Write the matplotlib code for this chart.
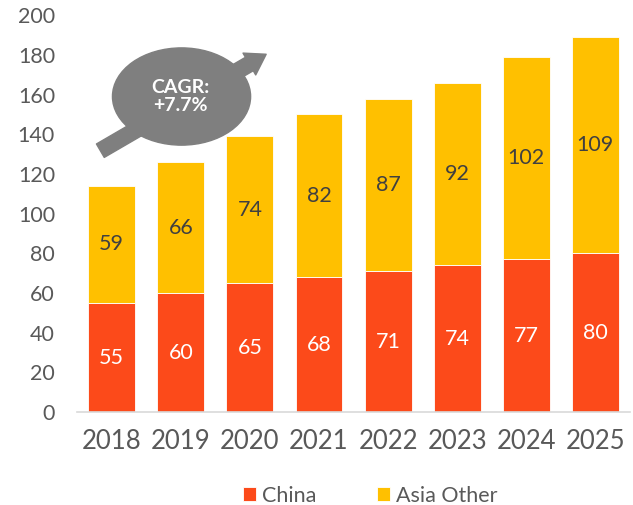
import matplotlib
matplotlib.use("Agg")
import matplotlib.pyplot as plt
from matplotlib.patches import Ellipse, FancyArrowPatch

years = ["2018", "2019", "2020", "2021", "2022", "2023", "2024", "2025"]
china = [55, 60, 65, 68, 71, 74, 77, 80]
asia_other = [59, 66, 74, 82, 87, 92, 102, 109]
yticks = [0, 20, 40, 60, 80, 100, 120, 140, 160, 180, 200]
cagr_text = "CAGR:\n+7.7%"

C_CHINA = "#FC4A1A"
C_ASIA = "#FFC000"
GRAY = "#595959"

plt.rcParams['font.family'] = ['Lato', 'DejaVu Sans']

fig = plt.figure(figsize=(6.33, 5.05), dpi=100)
ax = fig.add_axes([0.122, 0.184, 0.873, 0.786])

x = list(range(len(years)))
w = 0.68
b1 = ax.bar(x, china, width=w, color=C_CHINA, edgecolor="white", linewidth=0.6, label="China", zorder=2)
b2 = ax.bar(x, asia_other, width=w, bottom=china, color=C_ASIA, edgecolor="white", linewidth=0.6, label="Asia Other", zorder=2)

for i in x:
    ax.text(i, china[i] / 2, str(china[i]), ha="center", va="center", color="white", fontsize=15.5, zorder=3)
    ax.text(i, china[i] + asia_other[i] / 2, str(asia_other[i]), ha="center", va="center", color="#404040", fontsize=15.5, zorder=3)

ax.set_xlim(-0.5, 7.5)
ax.set_ylim(0, 200)
ax.set_xticks(x)
ax.set_xticklabels(years, fontsize=18.5, color=GRAY)
ax.set_yticks(yticks)
ax.set_yticklabels([str(t) for t in yticks], fontsize=15.5, color=GRAY)
ax.tick_params(axis="both", length=0)
ax.tick_params(axis="y", pad=16)
ax.tick_params(axis="x", pad=12)
for s in ["top", "right", "left"]:
    ax.spines[s].set_visible(False)
ax.spines["bottom"].set_color("#D9D9D9")
ax.spines["bottom"].set_linewidth(1.2)

# CAGR arrow and ellipse
arr = FancyArrowPatch((-0.2, 131), (2.27, 181), arrowstyle="simple,head_width=1.3,head_length=1.0,tail_width=0.8",
                      mutation_scale=14, color="#7F7F7F", zorder=4, clip_on=False)
ax.add_patch(arr)
ell = Ellipse((1.01, 159), 2.0, 49, color="#7F7F7F", zorder=5, clip_on=False)
ax.add_patch(ell)
ax.text(1.0, 159, cagr_text, ha="center", va="center", color="white", fontsize=14, fontweight="bold",
        zorder=6, linespacing=1.05)

leg = fig.legend(handles=[b1, b2], labels=["China", "Asia Other"], loc="lower center",
                 bbox_to_anchor=(0.585, -0.04), ncol=2, frameon=False,
                 prop={"size": 15.5},
                 handlelength=0.6, handleheight=0.6, handletextpad=0.3, columnspacing=2.8)
for t in leg.get_texts():
    t.set_color(GRAY)

fig.savefig("out.png", dpi=100)
